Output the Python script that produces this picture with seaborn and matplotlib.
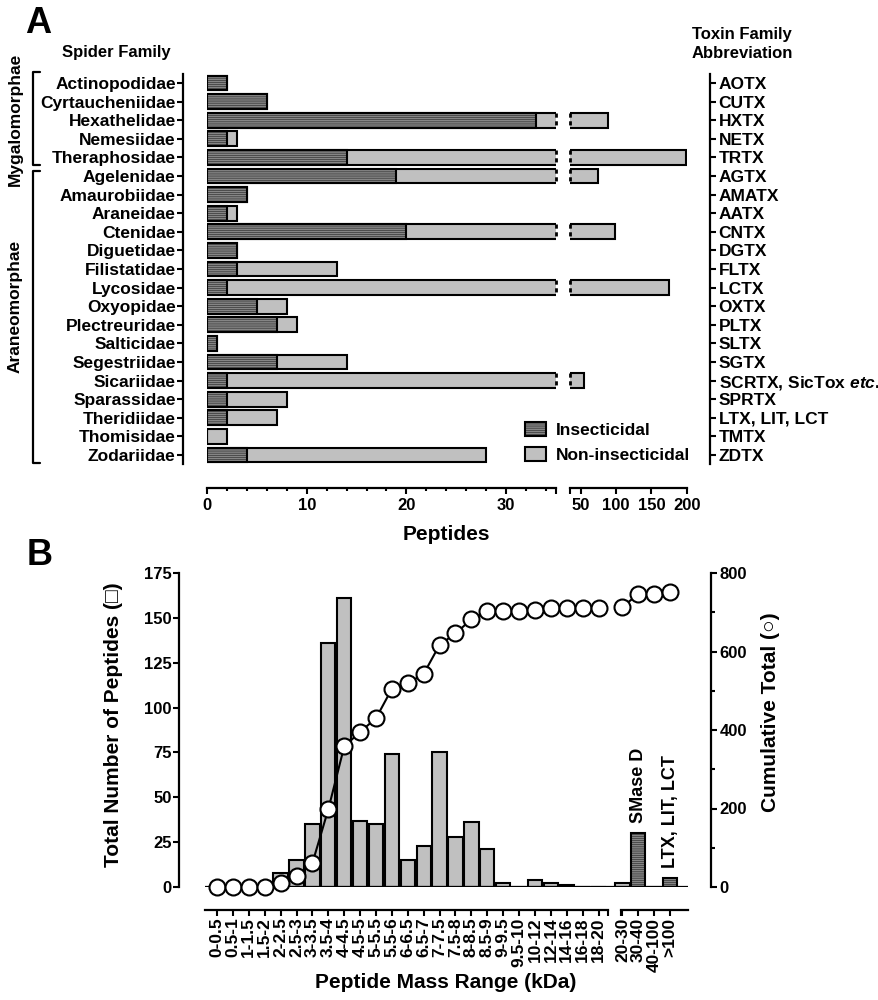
import numpy as np
import pandas as pd
import matplotlib
matplotlib.use("Agg")
import matplotlib.pyplot as plt
import seaborn as sns
from matplotlib.lines import Line2D
from matplotlib.patches import Patch

sns.set_style("ticks")
plt.rcParams["font.family"] = ["Liberation Sans", "DejaVu Sans"]
plt.rcParams["font.weight"] = "bold"
plt.rcParams["axes.labelweight"] = "bold"
plt.rcParams["axes.linewidth"] = 1.6
plt.rcParams["axes.edgecolor"] = "black"
plt.rcParams["text.color"] = "black"
plt.rcParams["axes.labelcolor"] = "black"
plt.rcParams["xtick.color"] = "black"
plt.rcParams["ytick.color"] = "black"
plt.rcParams["hatch.linewidth"] = 0.3
plt.rcParams["mathtext.fontset"] = "custom"
plt.rcParams["mathtext.it"] = "Liberation Sans:italic:bold"
plt.rcParams["mathtext.rm"] = "Liberation Sans:bold"

LIGHT = "#c0c0c0"
DARK = "#858585"
HATCH = "--------"

# ---- Panel A data ----
spider_families = ["Actinopodidae", "Cyrtaucheniidae", "Hexathelidae", "Nemesiidae",
                   "Theraphosidae", "Agelenidae", "Amaurobiidae", "Araneidae", "Ctenidae",
                   "Diguetidae", "Filistatidae", "Lycosidae", "Oxyopidae", "Plectreuridae",
                   "Salticidae", "Segestriidae", "Sicariidae", "Sparassidae", "Theridiidae",
                   "Thomisidae", "Zodariidae"]
toxin_abbrev = ["AOTX", "CUTX", "HXTX", "NETX", "TRTX", "AGTX", "AMATX", "AATX", "CNTX",
                "DGTX", "FLTX", "LCTX", "OXTX", "PLTX", "SLTX", "SGTX",
                r"SCRTX, SicTox $\mathit{etc.}$", "SPRTX", "LTX, LIT, LCT", "TMTX", "ZDTX"]
insecticidal = [2, 6, 33, 2, 14, 19, 4, 2, 20, 3, 3, 2, 5, 7, 1, 7, 2, 2, 2, 0, 4]
total_peptides = [2, 6, 89, 3, 199, 74, 4, 3, 98, 3, 13, 175, 8, 9, 1, 14, 55, 8, 7, 2, 28]
break_at = 35

# ---- Panel B data ----
mass_ranges = ["0-0.5", "0.5-1", "1-1.5", "1.5-2", "2-2.5", "2.5-3", "3-3.5", "3.5-4",
               "4-4.5", "4.5-5", "5-5.5", "5.5-6", "6-6.5", "6.5-7", "7-7.5", "7.5-8",
               "8-8.5", "8.5-9", "9-9.5", "9.5-10", "10-12", "12-14", "14-16", "16-18",
               "18-20", "20-30", "30-40", "40-100", ">100"]
peptide_counts = [0, 0, 0, 1, 8, 15, 35, 136, 161, 37, 35, 74, 15, 23, 75, 28, 36, 21,
                  2, 0, 4, 2, 1, 0, 0, 2, 30, 0, 5]
cumulative_total = [0, 0, 0, 1, 10, 27, 61, 198, 358, 395, 430, 505, 519, 543, 617, 646,
                    682, 702, 704, 704, 707, 710, 711, 711, 711, 714, 746, 746, 751]
dark_ranges = ["30-40", ">100"]
n_first = 25  # ranges before the axis break

W, H = 879, 1000


def fx(x):
    return x / W


def fy(y):
    return 1 - y / H


fig = plt.figure(figsize=(8.79, 10), dpi=100)

# ================= Panel A =================
ax_a1 = fig.add_axes([fx(207), fy(464.3), (556 - 207) / W, 390.6 / H])
ax_a2 = fig.add_axes([fx(570), fy(464.3), (686.7 - 570) / W, 390.6 / H])

df_a = pd.DataFrame({"family": spider_families, "insecticidal": insecticidal,
                     "total": total_peptides})
for ax in (ax_a1, ax_a2):
    sns.barplot(data=df_a, x="total", y="family", color=LIGHT, saturation=1, width=0.8,
                edgecolor="black", linewidth=1.5, errorbar=None, ax=ax)
    sns.barplot(data=df_a, x="insecticidal", y="family", color=DARK, saturation=1,
                width=0.8, edgecolor="black", linewidth=1.5, hatch=HATCH,
                errorbar=None, ax=ax)

# dashed ends where the bars cross the break
for i, t in enumerate(total_peptides):
    if t > break_at:
        for ax in (ax_a1, ax_a2):
            ax.plot([break_at, break_at], [i - 0.4, i + 0.4], color="black", lw=2,
                    ls=(0, (1.5, 1.3)), clip_on=False, zorder=5)

n = len(spider_families)
ax_a1.set_xlim(0, break_at)
ax_a2.set_xlim(break_at, 200)
for ax in (ax_a1, ax_a2):
    ax.set_ylim(n - 0.5, -0.5)
    ax.set_xlabel("")
    ax.set_ylabel("")
    ax.spines["top"].set_visible(False)
    ax.spines["bottom"].set_position(("outward", 17))

ax_a1.spines["right"].set_visible(False)
ax_a1.spines["left"].set_position(("outward", 17))
ax_a2.spines["left"].set_visible(False)
ax_a2.spines["right"].set_position(("outward", 17))

ax_a1.set_yticks(range(n), labels=spider_families)
ax_a2.yaxis.tick_right()
ax_a2.set_yticks(range(n), labels=toxin_abbrev)
ax_a1.set_xticks([0, 10, 20, 30, 35], labels=["0", "10", "20", "30", ""])
ax_a1.set_xticks(np.arange(2, 35, 2), minor=True)
ax_a2.set_xticks([35, 50, 100, 150, 200], labels=["", "50", "100", "150", "200"])
ax_a2.set_xticks([], minor=True)

ax_a1.tick_params(axis="y", length=4.5, width=1.5, pad=1, labelsize=12.5)
ax_a2.tick_params(axis="y", length=4.5, width=1.5, pad=1.5, labelsize=12.5)
for ax in (ax_a1, ax_a2):
    ax.tick_params(axis="x", which="major", length=4.5, width=1.5, pad=3, labelsize=12)
    ax.tick_params(axis="x", which="minor", length=2.5, width=1.5)

fig.text(fx(446), fy(535), "Peptides", ha="center", va="center", fontsize=15)
fig.text(fx(62), fy(53), "Spider Family", ha="left", va="center", fontsize=12)
fig.text(fx(692), fy(35), "Toxin Family", ha="left", va="center", fontsize=12)
fig.text(fx(692), fy(54), "Abbreviation", ha="left", va="center", fontsize=12)
fig.text(fx(25), fy(33), "A", ha="left", va="baseline", fontsize=26)

# clade brackets
for top, bottom, name, yc in [(72, 165, "Mygalomorphae", 119),
                              (171, 463, "Araneomorphae", 306)]:
    fig.add_artist(Line2D([fx(40), fx(33), fx(33), fx(40)],
                          [fy(top), fy(top), fy(bottom), fy(bottom)],
                          color="black", lw=1.6, transform=fig.transFigure))
    fig.text(fx(15), fy(yc), name, rotation=90, ha="center", va="center", fontsize=12.5)

legend_handles = [Patch(facecolor=DARK, edgecolor="black", hatch=HATCH, lw=1.5),
                  Patch(facecolor=LIGHT, edgecolor="black", lw=1.5)]
fig.legend(legend_handles, ["Insecticidal", "Non-insecticidal"], loc="upper left",
           bbox_to_anchor=(fx(525), fy(422)), frameon=False, fontsize=12.5,
           handlelength=1.2, handleheight=0.9, handletextpad=0.55, labelspacing=0.5,
           borderpad=0, borderaxespad=0)

# ================= Panel B =================
ax_b = fig.add_axes([fx(205.1), fy(887), 482.5 / W, 314 / H])

positions = np.r_[np.arange(n_first), np.arange(n_first, len(mass_ranges)) + 0.5]
kinds = ["dark" if r in dark_ranges else "light" for r in mass_ranges]
df_b = pd.DataFrame({"pos": positions, "count": peptide_counts, "kind": kinds,
                     "cum": cumulative_total})

sns.barplot(data=df_b, x="pos", y="count", hue="kind", palette={"light": LIGHT, "dark": DARK},
            native_scale=True, dodge=False, width=0.9, saturation=1, edgecolor="black",
            linewidth=1.5, errorbar=None, legend=False, ax=ax_b)
for p in ax_b.patches:
    if np.allclose(p.get_facecolor()[:3], matplotlib.colors.to_rgb(DARK)):
        p.set_hatch(HATCH)
ax_b.axhline(0, color="black", lw=1.6, zorder=4)

ax_bt = ax_b.twinx()
for part in (df_b.iloc[:n_first], df_b.iloc[n_first:]):
    sns.lineplot(data=part, x="pos", y="cum", color="black", lw=1.5, marker="o",
                 markersize=11.5, markerfacecolor="white", markeredgecolor="black",
                 markeredgewidth=1.5, estimator=None, ax=ax_bt)
for line in ax_bt.lines:
    line.set_clip_on(False)

ax_b.set_xlim(-0.75, 29.6)
ax_b.set_ylim(0, 175)
ax_bt.set_ylim(0, 800)
ax_b.set_xlabel("")
ax_b.set_ylabel("")
ax_bt.set_ylabel("")

ax_b.set_xticks(positions, labels=mass_ranges)
ax_b.set_xticks([24.6, 25.4], minor=True)
ax_b.set_yticks(np.arange(0, 176, 25))
ax_bt.set_yticks(np.arange(0, 801, 200))
ax_bt.set_yticks(np.arange(100, 800, 200), minor=True)

ax_b.spines[["top", "right"]].set_visible(False)
ax_b.spines["left"].set_position(("outward", 18.5))
ax_b.spines["bottom"].set_position(("outward", 16.5))
ax_b.spines["bottom"].set_bounds(-0.75, 24.6)
ax_bt.spines[["top", "left"]].set_visible(False)
ax_bt.spines["right"].set_position(("outward", 17))
ax_bt.spines["bottom"].set_position(("outward", 16.5))
ax_bt.spines["bottom"].set_bounds(25.4, 29.6)

ax_b.tick_params(axis="x", which="both", length=4.5, width=1.5, pad=1, labelsize=12.5,
                 labelrotation=90)
ax_b.tick_params(axis="y", length=4.5, width=1.5, pad=1, labelsize=12)
ax_bt.tick_params(axis="y", which="major", length=4.5, width=1.5, pad=1.5, labelsize=12)
ax_bt.tick_params(axis="y", which="minor", length=3, width=1.5)

for name in dark_ranges:
    i = mass_ranges.index(name)
    label = "SMase D" if name == "30-40" else "LTX, LIT, LCT"
    ax_b.annotate(label, xy=(positions[i], peptide_counts[i]), xytext=(0, 7),
                  textcoords="offset points", rotation=90, ha="center", va="bottom",
                  fontsize=13)

fig.text(fx(114), fy(725), "Total Number of Peptides (\u25a1)", rotation=90,
         ha="center", va="center", fontsize=15)
fig.text(fx(771), fy(712), "Cumulative Total (\u25cb)", rotation=90,
         ha="center", va="center", fontsize=15)
fig.text(fx(446), fy(982), "Peptide Mass Range (kDa)", ha="center", va="center", fontsize=15)
fig.text(fx(27), fy(565), "B", ha="left", va="baseline", fontsize=26)

fig.savefig("out.png", dpi=100)
